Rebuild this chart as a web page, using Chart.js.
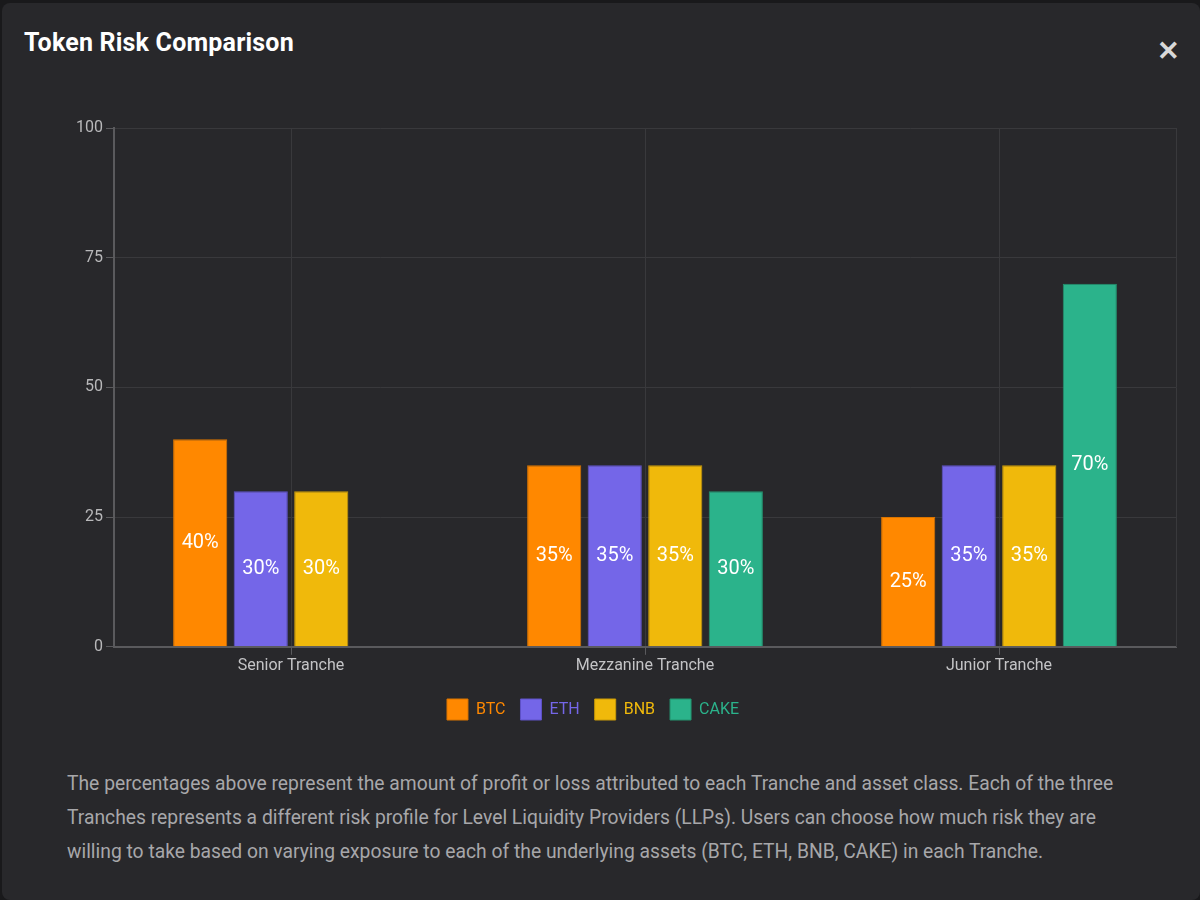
<!DOCTYPE html>
<html>
<head>
<meta charset="utf-8">
<script src="https://cdn.jsdelivr.net/npm/chart.js@4.4.1/dist/chart.umd.min.js"></script>
<style>
  html, body { margin: 0; padding: 0; width: 1200px; height: 900px; background: #19191b; overflow: hidden; font-family: Roboto, "Noto Sans", sans-serif; }
  .modal { position: absolute; left: 2px; top: 3px; width: 1198px; height: 897px; background: #28282b; border-radius: 8px; }
  .title { position: absolute; left: 22px; top: 25px; font-size: 25px; font-weight: 700; color: #ffffff; letter-spacing: 0.2px; }
  .close { position: absolute; left: 1155px; top: 33px; font-size: 27px; color: #d8d8d8; font-weight: 700; line-height: 30px; }
  .chartbox { position: absolute; left: -2px; top: 107px; width: 1190px; height: 620px; }
  .desc { position: absolute; left: 65px; top: 764px; width: 1065px; font-size: 19.3px; line-height: 34px; color: #a7a7aa; }
</style>
</head>
<body>
<div class="modal">
  <div class="title">Token Risk Comparison</div>
  <div class="close">✕</div>
  <div class="chartbox"><canvas id="c"></canvas></div>
  <div class="desc">The percentages above represent the amount of profit or loss attributed to each Tranche and asset class. Each of the three Tranches represents a different risk profile for Level Liquidity Providers (LLPs). Users can choose how much risk they are willing to take based on varying exposure to each of the underlying assets (BTC, ETH, BNB, CAKE) in each Tranche.</div>
</div>
<script>
const categories = ["Senior Tranche", "Mezzanine Tranche", "Junior Tranche"];
const tokens = ["BTC", "ETH", "BNB", "CAKE"];
const btcValues = [40, 35, 25];
const ethValues = [30, 35, 35];
const bnbValues = [30, 35, 35];
const cakeValues = [null, 30, 70];
const yTicks = [0, 25, 50, 75, 100];

const fills = ["#ff8800", "#7466e8", "#f0b90b", "#2bb38b"];
const borders = ["#d97400", "#5f52c8", "#c99a08", "#23946f"];
const seriesValues = [btcValues, ethValues, bnbValues, cakeValues];
const FONT = 'Roboto, "Noto Sans", sans-serif';

const datasets = tokens.map((t, i) => ({
  label: t,
  data: seriesValues[i],
  backgroundColor: fills[i],
  borderColor: borders[i],
  borderWidth: 1,
  categoryPercentage: 0.684,
  barPercentage: 0.895
}));

const barLabels = {
  id: 'barLabels',
  afterDatasetsDraw(chart) {
    const ctx = chart.ctx;
    ctx.save();
    ctx.fillStyle = '#ffffff';
    ctx.font = '400 20px ' + FONT;
    ctx.textAlign = 'center';
    ctx.textBaseline = 'middle';
    chart.data.datasets.forEach((ds, di) => {
      const meta = chart.getDatasetMeta(di);
      meta.data.forEach((bar, idx) => {
        const v = ds.data[idx];
        if (v === null || v === undefined) return;
        const props = bar.getProps(['x', 'y', 'base'], true);
        ctx.fillText(v + '%', props.x, (props.y + props.base) / 2);
      });
    });
    ctx.restore();
  }
};

new Chart(document.getElementById('c'), {
  type: 'bar',
  data: { labels: categories, datasets },
  options: {
    responsive: true,
    maintainAspectRatio: false,
    animation: false,
    layout: { padding: { left: 10, right: 14, top: 18, bottom: 0 } },
    plugins: {
      tooltip: { enabled: false },
      legend: {
        position: 'bottom',
        labels: {
          boxWidth: 21,
          boxHeight: 21,
          padding: 15,
          font: { size: 16, family: FONT },
          generateLabels(chart) {
            return chart.data.datasets.map((ds, i) => ({
              text: ds.label,
              fillStyle: ds.backgroundColor,
              strokeStyle: ds.borderColor,
              lineWidth: 1,
              fontColor: ds.backgroundColor,
              hidden: !chart.isDatasetVisible(i),
              datasetIndex: i
            }));
          }
        }
      }
    },
    scales: {
      x: {
        afterFit(axis) { axis.height += 6; },
        grid: { offset: false, color: '#39393c', tickColor: '#5a5a5d', tickLength: 8 },
        border: { color: '#5a5a5d', width: 2 },
        ticks: { color: '#c4c4c6', font: { size: 16, family: FONT }, padding: 2 }
      },
      y: {
        min: 0,
        max: 100,
        afterBuildTicks(axis) { axis.ticks = yTicks.map(v => ({ value: v })); },
        afterFit(axis) { axis.width = 104; },
        grid: { color: '#39393c', tickColor: '#5a5a5d', tickLength: 8 },
        border: { color: '#5a5a5d', width: 2 },
        ticks: { color: '#b8b8ba', font: { size: 16, family: FONT }, padding: 3 }
      },
      yRight: {
        position: 'right',
        min: 0,
        max: 100,
        display: true,
        afterFit(axis) { axis.width = 0; },
        grid: { display: false, drawTicks: false },
        border: { color: '#39393c', width: 1 },
        ticks: { display: false }
      }
    }
  },
  plugins: [barLabels]
});
</script>
</body>
</html>
